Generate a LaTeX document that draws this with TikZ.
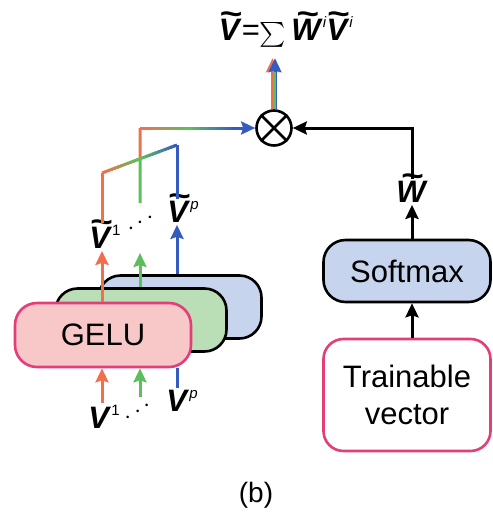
\documentclass[tikz,border=0pt]{standalone}
\usepackage{fontspec}
\setmainfont{Liberation Sans}
\usepackage{amsmath}
\usepackage{graphicx}
\usetikzlibrary{arrows.meta,calc}

\definecolor{orng}{RGB}{240,112,78}
\definecolor{grn}{RGB}{92,190,92}
\definecolor{blu}{RGB}{52,92,192}
\definecolor{pinkline}{RGB}{228,62,120}
\definecolor{pinkfill}{RGB}{248,200,200}
\definecolor{grnfill}{RGB}{186,222,182}
\definecolor{blufill}{RGB}{198,212,238}

\newcommand{\vb}[1]{\textbf{\textit{#1}}}
\newcommand{\tv}[1]{\leavevmode\ooalign{\vb{#1}\cr\hidewidth\raisebox{0.52em}{\scalebox{1.25}[1]{\vb{\textasciitilde}}}\hidewidth\cr}}
\newcommand{\supr}[1]{\raisebox{0.42em}{\fontsize{15}{15}\selectfont #1}}
% colour-graded wire, orange -> green -> blue
\newcommand{\gradwire}[2]{%
  \foreach \i in {0,...,23}{%
    \pgfmathsetmacro{\ta}{\i/24}\pgfmathsetmacro{\tb}{min(1,(\i+1.4)/24)}%
    \pgfmathtruncatemacro{\mx}{\i<12 ? \i*100/11 : (\i-12)*100/11}%
    \ifnum\i<12 \colorlet{segc}{grn!\mx!orng}\else\colorlet{segc}{blu!\mx!grn}\fi
    \draw[wire,segc] ($(#1)!\ta!(#2)$) -- ($(#1)!\tb!(#2)$);}}

\begin{document}
\begin{tikzpicture}[x=1pt,y=-1pt,
  box/.style={draw,line width=2.6pt,rounded corners=22pt,inner sep=0pt,font=\fontsize{31}{37}\selectfont},
  wire/.style={line width=3pt},
  tip/.style={-{Stealth[length=14pt,width=13pt,inset=2pt]}},
  lbl/.style={font=\fontsize{31}{34}\selectfont,inner sep=2pt}]
\useasboundingbox (0,0) rectangle (493,520);

% stacked GELU blocks, back to front
\node[box,fill=blufill,minimum width=163pt,minimum height=63pt] (gelup) at (180,307) {};
\node[box,fill=grnfill,minimum width=171pt,minimum height=63pt] (gelu2) at (141,320) {};
\node[box,draw=pinkline,fill=pinkfill,minimum width=176pt,minimum height=64pt] (gelu1) at (103,335) {GELU};

% inputs
\node[lbl] (v1) at (104,417) {\vb{V}\supr{1}};
\node[lbl] (vp) at (182,401) {\vb{V}\supr{\textit{p}}};
\node[lbl,rotate=32] (vdots) at (140,411) {$\cdots$};
\coordinate (v2) at (140,397);

% outputs
\node[lbl] (tv1) at (105,237) {\tv{V}\supr{1}};
\node[lbl] (tvp) at (183,212) {\tv{V}\supr{\textit{p}}};
\node[lbl,rotate=30] (tdots) at (143,222) {$\cdots$};
\coordinate (tv2) at (140,253);
\coordinate (tv2up) at (140,203);

\draw[wire,orng,tip] (v1.north -| 102,0) -- (102,0 |- gelu1.south);
\draw[wire,grn,tip] (v2) -- (v2 |- gelu1.south);
\draw[wire,blu] (vp.north -| 177,0) -- (177,0 |- gelu1.south);

\draw[wire,orng,tip] (102,0 |- gelu1.north) -- (102,0 |- tv1.south);
\draw[wire,grn,tip] (tv2 |- gelu2.north) -- (tv2);
\draw[wire,blu,tip] (177,0 |- gelup.north) -- (177,0 |- tvp.south);

% merge of the branches
\coordinate (j1) at (102,173);
\coordinate (jp) at (177,145);
\path (j1) -- (jp) coordinate[pos=0.507] (jm);
\node[draw,circle,line width=2.6pt,minimum size=35pt,inner sep=0pt] (ot) at (274,128) {};
\draw[line width=2.6pt] (ot.north west) -- (ot.south east) (ot.north east) -- (ot.south west);
\coordinate (jg) at (140,128);
\coordinate (hx) at (236,128);

\draw[wire,orng] (102,0 |- tv1.north) -- (j1);
\draw[wire,blu] (177,0 |- tvp.north) -- (jp);
\draw[wire,grn] (tv2up) -- (jm);
\draw[wire,orng] (jm) -- (jg);
\gradwire{j1}{jp}
\gradwire{jg}{hx}
\draw[wire,blu,tip] (hx) -- (ot.west);

% weights branch
\node[box,fill=blufill,minimum width=167pt,minimum height=62pt] (soft) at (407,271) {Softmax};
\node[box,draw=pinkline,fill=white,rounded corners=20pt,minimum width=167pt,minimum height=112pt,align=center] (train) at (407,395) {Trainable\\vector};
\node[lbl] (wt) at (412,192) {\tv{W}};
\draw[wire,tip] (train.north -| wt) -- (soft.south -| wt);
\draw[wire,tip] (soft.north -| wt) -- (wt.south);
\draw[wire,tip] (wt.north) -- (wt |- ot) -- (ot.east);

% output
\node[lbl,inner sep=0pt] (sumv) at (286,32) {\tv{V}=$\textstyle\sum$\,\tv{W}\supr{\textit{i}}\tv{V}\supr{\textit{i}}};
\draw[wire,orng,tip,shorten >=11pt] ([xshift=-1.5pt]ot.north) -- ([xshift=-1.5pt]ot.north |- sumv.south);
\draw[wire,blu,tip,shorten >=11pt] ([xshift=1pt]ot.north) -- ([xshift=1pt]ot.north |- sumv.south);
\draw[wire,grn,shorten >=25pt] (ot.north) -- (ot.north |- sumv.south);

\node[font=\fontsize{28}{32}\selectfont] (cap) at (256,495) {(b)};
\end{tikzpicture}
\end{document}
